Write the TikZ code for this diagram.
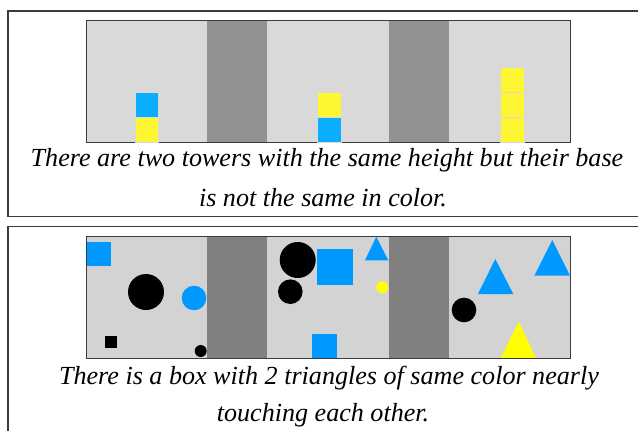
\documentclass[tikz,border=0pt]{standalone}
\usepackage{fontspec}
\setmainfont{Liberation Serif}
\usetikzlibrary{positioning}
% colours of the two scenes
\definecolor{towerbg}{RGB}{217,217,217}
\definecolor{towerstripe}{RGB}{146,146,146}
\definecolor{towerblue}{RGB}{10,174,252}
\definecolor{toweryellow}{RGB}{255,246,51}
\definecolor{shapebg}{RGB}{211,211,211}
\definecolor{shapestripe}{RGB}{128,128,128}
\definecolor{shapeblue}{RGB}{0,153,255}
\definecolor{shapeyellow}{RGB}{255,255,0}
\definecolor{framec}{RGB}{60,60,60}
\tikzset{
  panel/.style={draw=framec, line width=1.1pt},
  scene/.style={draw=framec, line width=0.9pt},
  caption/.style={font=\fontsize{26.1}{30}\selectfont\itshape, inner sep=0pt, anchor=base},
  blueblk/.style={fill=towerblue, draw=towerbg, line width=0.5pt},
  yellowblk/.style={fill=toweryellow, draw=towerbg, line width=0.5pt},
  bluething/.style={fill=shapeblue},
  yellowthing/.style={fill=shapeyellow},
  blackthing/.style={fill=black}
}
\begin{document}
\begin{tikzpicture}[x=1pt, y=-1pt]
\useasboundingbox (0,0) rectangle (638,431);
\clip (0,0) rectangle (638,431);

% upper panel: towers
\draw[panel] (660,11) -- (8,11) -- (8,216.5) -- (660,216.5);
\fill[towerbg] (86,20) rectangle (570,142);
\fill[towerstripe] (207,20) rectangle (267,142);
\fill[towerstripe] (389,20) rectangle (449,142);
\draw[scene] (86,20) rectangle (570,142);
% tower 1
\filldraw[yellowblk] (135,117) rectangle (158,142);
\filldraw[blueblk] (135,92) rectangle (158,117);
% tower 2
\filldraw[blueblk] (317,117) rectangle (341,142);
\filldraw[yellowblk] (317,92) rectangle (341,117);
% tower 3
\filldraw[yellowblk] (500,117) rectangle (524,142);
\filldraw[yellowblk] (500,92) rectangle (524,117);
\filldraw[yellowblk] (500,67) rectangle (524,92);
\node[caption] (capA) at (327,166.7) {There are two towers with the same height but their base};
\node[caption] (capB) at (323,206.7) {is not the same in color.};

% lower panel: loose shapes
\draw[panel] (660,226.5) -- (8,226.5) -- (8,450);
\fill[shapebg] (86,236) rectangle (570,358);
\fill[shapestripe] (207,236) rectangle (267,358);
\fill[shapestripe] (389,236) rectangle (449,358);
% left box
\fill[bluething] (87,242) rectangle (111,266);
\fill[blackthing] (146,292) circle (18);
\fill[bluething] (194,298) circle (12.3);
\fill[blackthing] (105,335.5) rectangle (117,347.5);
\fill[blackthing] (200.7,351) circle (6);
% middle box
\fill[blackthing] (297.7,260) circle (18);
\fill[blackthing] (290.3,291.7) circle (12.3);
\fill[bluething] (317.3,249.3) rectangle (353.3,285.3);
\fill[bluething] (376.3,236.7) -- (388.3,260.3) -- (365,260.3) -- cycle;
\fill[yellowthing] (382.3,287.3) circle (6);
\fill[bluething] (312.3,333.5) rectangle (336.7,358);
% right box
\fill[bluething] (495.3,259) -- (513.3,294) -- (478,294) -- cycle;
\fill[bluething] (552.3,240) -- (570,275.7) -- (534.3,275.7) -- cycle;
\fill[blackthing] (464,310) circle (12.3);
\fill[yellowthing] (518.7,321.7) -- (536,358) -- (500.7,358) -- cycle;
\draw[scene] (86,236) rectangle (570,358);
\node[caption] (capC) at (329,384) {There is a box with 2 triangles of same color nearly};
\node[caption] (capD) at (323,421) {touching each other.};
\end{tikzpicture}
\end{document}
